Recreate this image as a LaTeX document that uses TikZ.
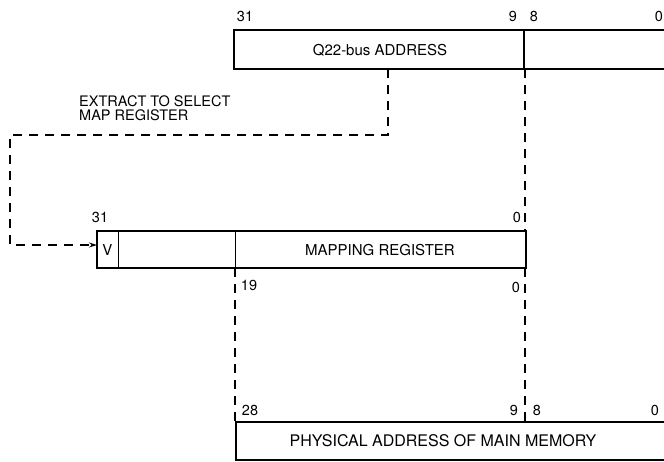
\documentclass[tikz,border=0pt]{standalone}
\usepackage{fontspec}
\setmainfont{TeX Gyre Heros}
\usetikzlibrary{arrows.meta}

\begin{document}
\begin{tikzpicture}[x=1pt,y=-1pt,
  reg/.style={line width=1.4pt},
  bitnum/.style={font=\fontsize{14.5}{14.5}\selectfont,inner sep=0pt},
  field/.style={font=\fontsize{15}{15}\selectfont,inner sep=0pt},
  link/.style={line width=1.1pt,dash pattern=on 9pt off 7pt}]
  \useasboundingbox (0,0) rectangle (664,462);
  \clip (0,0) rectangle (664,462);
  \draw[reg] (234,30) rectangle (690,69);
  \draw[reg] (524,30) -- (524,69);
  \draw[reg] (97,231) rectangle (526,268);
  \foreach \xd in {118,235} \draw[line width=0.8pt] (\xd,231) -- (\xd,268);
  \draw[reg] (236,422) rectangle (690,460);
  \node[field] (busaddr) at (380,50) {Q22-bus ADDRESS};
  \node[field] (vbit) at (107.5,250) {V};
  \node[field] (mapreg) at (380,250) {MAPPING REGISTER};
  \node[field,font=\fontsize{16}{16}\selectfont] (physaddr) at (443,441) {PHYSICAL ADDRESS OF MAIN MEMORY};
  \node[field,align=left,anchor=north west,font=\fontsize{14.5}{14}\selectfont] (extract) at (79,95) {EXTRACT TO SELECT\\MAP REGISTER};
  \node[bitnum] (b31top) at (245,16) {31};
  \node[bitnum] (b9top) at (513,16) {9};
  \node[bitnum] (b8top) at (534,16) {8};
  \node[bitnum] (b0top) at (659,16) {0};
  \node[bitnum] (b31map) at (100,217) {31};
  \node[bitnum] (b0map) at (517,217) {0};
  \node[bitnum] (b19) at (249,285) {19};
  \node[bitnum] (b0low) at (516,287) {0};
  \node[bitnum] (b28) at (250,410) {28};
  \node[bitnum] (b9phys) at (514,410) {9};
  \node[bitnum] (b8phys) at (537,410) {8};
  \node[bitnum] (b0phys) at (655,410) {0};
  \coordinate (tapsel) at (388,69);
  \coordinate (turnleft) at (10,135);
  \coordinate (vin) at (97,245);
  \draw[link,-{Stealth[length=8pt,width=5pt]}] (tapsel) |- (turnleft) |- (vin);
  \coordinate (hitop) at (525,69);
  \coordinate (hiend) at (525,231);
  \draw[link] (hitop) -- (hiend);
  \coordinate (lotop) at (525,268);
  \coordinate (loend) at (525,422);
  \draw[link] (lotop) -- (loend);
  \coordinate (pftop) at (235,268);
  \coordinate (pfend) at (235,422);
  \draw[link] (pftop) -- (pfend);
\end{tikzpicture}
\end{document}
